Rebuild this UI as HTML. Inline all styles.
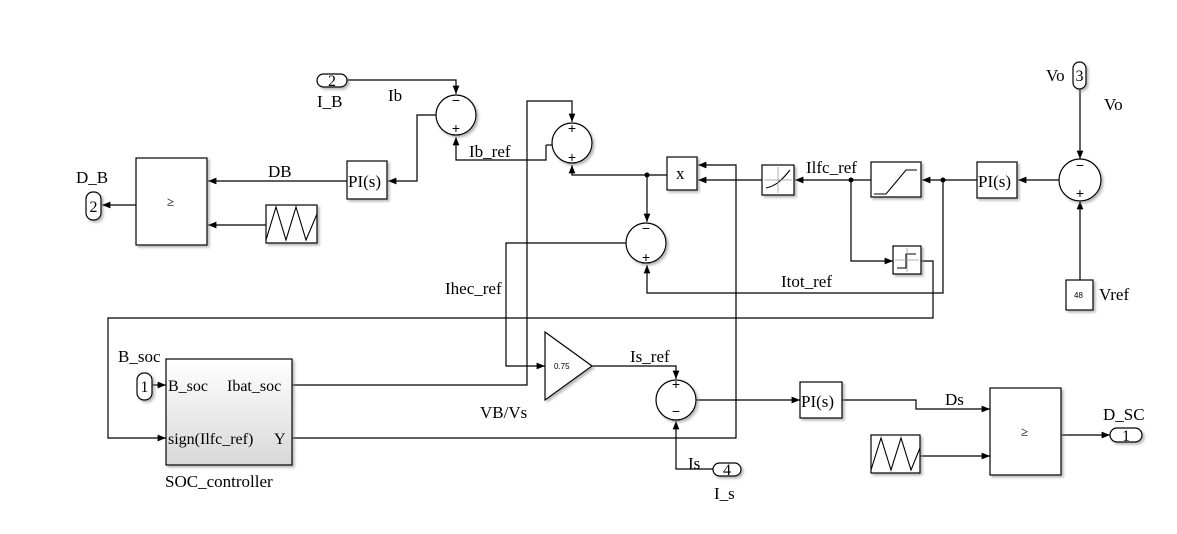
<!DOCTYPE html>
<html><head><meta charset="utf-8"><style>
html,body{margin:0;padding:0;background:#fff}
svg{display:block;font-family:"Liberation Serif",serif}
</style></head><body>
<svg width="1177" height="534" viewBox="0 0 1177 534" xmlns="http://www.w3.org/2000/svg">
<defs>
<marker id="a" viewBox="0 0 10 10" refX="10" refY="5" markerWidth="7" markerHeight="7" orient="auto"><path d="M0,1 L10,5 L0,9z" fill="#000"/></marker>
<linearGradient id="g" x1="0" y1="0" x2="0" y2="1"><stop offset="0" stop-color="#fff"/><stop offset="1" stop-color="#d8d8d8"/></linearGradient>
<filter id="s" x="-20%" y="-20%" width="150%" height="150%"><feDropShadow dx="2" dy="2" stdDeviation="1.2" flood-color="#888" flood-opacity="0.6"/></filter>
</defs>
<g fill="none" stroke="#000" stroke-width="1.2">
<polyline points="347,80 456,80 456,94" marker-end="url(#a)"/>
<polyline points="436,115 417,115 417,181 388,181" marker-end="url(#a)"/>
<polyline points="347,181 208,181" marker-end="url(#a)"/>
<polyline points="136,205 102,205" marker-end="url(#a)"/>
<polyline points="266,225 208,225" marker-end="url(#a)"/>
<polyline points="546,145 546,160 456,160 456,137" marker-end="url(#a)"/>
<line x1="546" y1="145" x2="552" y2="145"/>
<polyline points="292,385 527,385 527,101 572,101 572,122" marker-end="url(#a)"/>
<polyline points="667,175 572,175 572,165" marker-end="url(#a)"/>
<polyline points="647,175 647,222" marker-end="url(#a)"/>
<polyline points="292,438 736,438 736,165 698,165" marker-end="url(#a)"/>
<polyline points="762,180 698,180" marker-end="url(#a)"/>
<polyline points="626,243 506,243 506,366 545,366" marker-end="url(#a)"/>
<polyline points="592,366 676,366 676,379" marker-end="url(#a)"/>
<polyline points="713,469 676,469 676,421" marker-end="url(#a)"/>
<polyline points="696,400 800,400" marker-end="url(#a)"/>
<polyline points="842,400 916,400 916,409 990,409" marker-end="url(#a)"/>
<polyline points="920,456 990,456" marker-end="url(#a)"/>
<polyline points="1061,435 1110,435" marker-end="url(#a)"/>
<polyline points="1080,89 1080,159" marker-end="url(#a)"/>
<polyline points="1080,280 1080,201" marker-end="url(#a)"/>
<polyline points="1059,180 1018,180" marker-end="url(#a)"/>
<polyline points="977,180 922,180" marker-end="url(#a)"/>
<polyline points="943,180 943,293 647,293 647,265" marker-end="url(#a)"/>
<polyline points="871,180 795,180" marker-end="url(#a)"/>
<polyline points="851,180 851,261 893,261" marker-end="url(#a)"/>
<polyline points="921,261 933,261 933,318 108,318 108,438 166,438" marker-end="url(#a)"/>
<polyline points="152,385 166,385" marker-end="url(#a)"/>
</g>
<g fill="#000"><circle cx="647" cy="175" r="2.5"/><circle cx="943" cy="180" r="2.5"/><circle cx="851" cy="180" r="2.5"/></g>
<g fill="#fff" stroke="#000" stroke-width="1.2" filter="url(#s)">
<rect x="136" y="158" width="71" height="87"/>
<rect x="347" y="161" width="40" height="38"/>
<rect x="266" y="205" width="51" height="38"/>
<circle cx="456" cy="115" r="20"/>
<circle cx="572" cy="143" r="20"/>
<circle cx="646" cy="243" r="20"/>
<circle cx="676" cy="400" r="20"/>
<circle cx="1080" cy="180" r="21"/>
<rect x="667" y="157" width="30" height="33"/>
<rect x="762" y="165" width="32" height="30"/>
<rect x="871" y="162" width="50" height="35"/>
<rect x="893" y="246" width="28" height="28"/>
<rect x="977" y="162" width="40" height="36"/>
<rect x="1066" y="280" width="27" height="30"/>
<polygon points="545,332 592,366 545,400"/>
<rect x="800" y="382" width="42" height="36"/>
<rect x="990" y="388" width="71" height="87"/>
<rect x="871" y="435" width="49" height="38"/>
<rect x="166" y="359" width="126" height="106" fill="url(#g)"/>
<rect x="317" y="74" width="30" height="13" rx="6.5"/>
<rect x="86" y="192" width="15" height="28" rx="7"/>
<rect x="1073" y="62" width="13" height="27" rx="6.5"/>
<rect x="137" y="373" width="15" height="27" rx="7"/>
<rect x="713" y="463" width="28" height="13" rx="6.5"/>
<rect x="1110" y="428" width="32" height="14" rx="7"/>
</g>
<g fill="none" stroke="#000" stroke-width="1.1">
<polyline points="266,240 276,207 286,240 296,207 306,240 317,214"/>
<polyline points="871,470 881,438 891,470 901,438 911,470 920,448"/>
<polyline points="874,194 886,194 906,170 917,170"/>
<polyline points="897,268 906,268 906,254 916,254"/>
<path d="M766,188 C776,186 782,180 790,170"/>
</g>
<g stroke="#999" stroke-width="0.8"><line x1="778" y1="167" x2="778" y2="193"/><line x1="764" y1="180" x2="792" y2="180"/><line x1="907" y1="248" x2="907" y2="272"/><line x1="895" y1="260" x2="919" y2="260"/></g>
<g font-size="17" fill="#000">
<text x="317" y="107">I_B</text>
<text x="388" y="101">Ib</text>
<text x="76" y="183">D_B</text>
<text x="268" y="177">DB</text>
<text x="348" y="187">PI(s)</text>
<text x="978" y="187">PI(s)</text>
<text x="801" y="407">PI(s)</text>
<text x="469" y="157">Ib_ref</text>
<text x="445" y="294">Ihec_ref</text>
<text x="806" y="173">Ilfc_ref</text>
<text x="781" y="287">Itot_ref</text>
<text x="1046" y="81">Vo</text>
<text x="1104" y="110">Vo</text>
<text x="1099" y="300">Vref</text>
<text x="630" y="362">Is_ref</text>
<text x="480" y="418">VB/Vs</text>
<text x="688" y="469">Is</text>
<text x="714" y="499">I_s</text>
<text x="945" y="405">Ds</text>
<text x="1103" y="420">D_SC</text>
<text x="118" y="362">B_soc</text>
<text x="168" y="391" font-size="16">B_soc</text>
<text x="227" y="391" font-size="16">Ibat_soc</text>
<text x="168" y="444" font-size="16">sign(Ilfc_ref)</text>
<text x="274" y="444" font-size="16">Y</text>
<text x="165" y="487">SOC_controller</text>
<text x="676" y="179">x</text>
<text x="167" y="206" font-size="13">≥</text>
<text x="1021" y="436" font-size="13">≥</text>
</g>
<g font-size="16" fill="#000" text-anchor="middle">
<text x="332" y="86">2</text>
<text x="93.5" y="212">2</text>
<text x="1079.5" y="81">3</text>
<text x="144.5" y="392">1</text>
<text x="727" y="475">4</text>
<text x="1126" y="441">1</text>
</g>
<g font-family="Liberation Sans,sans-serif" font-size="8" fill="#000">
<text x="554" y="369">0.75</text><text x="1074" y="298">48</text>
</g>
<g font-family="Liberation Sans,sans-serif" font-size="14" fill="#000" text-anchor="middle">
<text x="456" y="105">−</text><text x="456" y="133">+</text>
<text x="572" y="133">+</text><text x="572" y="162">+</text>
<text x="646" y="233">−</text><text x="646" y="262">+</text>
<text x="676" y="389">+</text><text x="676" y="416">−</text>
<text x="1080" y="170">−</text><text x="1080" y="198">+</text>
</g>
</svg>
</body></html>
